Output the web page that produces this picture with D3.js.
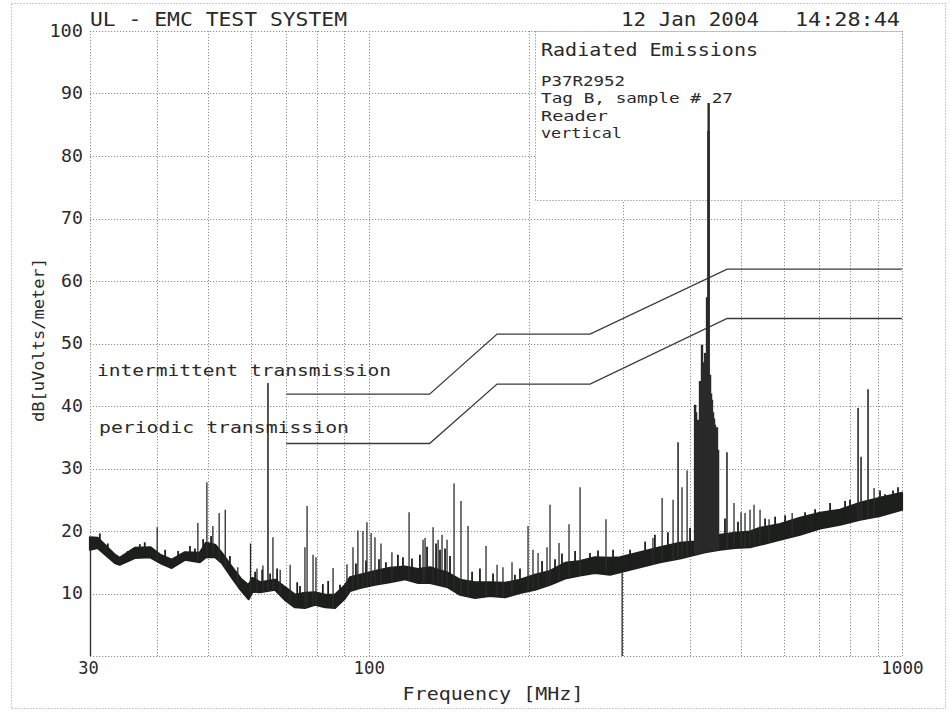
<!DOCTYPE html>
<html>
<head>
<meta charset="utf-8">
<script src="https://cdn.jsdelivr.net/npm/d3@7"></script>
<style>
  html, body { margin: 0; padding: 0; background: #fff; }
  svg text { font-family: "DejaVu Sans Mono", "Liberation Mono", monospace; fill: #2a2a2a; }
</style>
</head>
<body>
<div id="chart"></div>
<script>
// Frequency axis (MHz, log) and level axis (dB uV/m)
const xTicks = [30, 100, 1000];
const xGrid = [40, 50, 60, 70, 80, 90, 200, 300, 400, 500, 600, 700, 800, 900];
const yTicks = [10, 20, 30, 40, 50, 60, 70, 80, 90, 100];

// Noise floor of the trace: lower and upper edge of the band
const floorFreq = [30, 31, 33.4, 34.1, 36.4, 38.9, 40.6, 42.7, 45.2, 48.2, 49.5, 51.5, 53, 55.4, 57.5, 59.5,
  60.5, 62.5, 66.7, 69.6, 72.7, 75.9, 79.3, 82.8, 86.4, 90.2, 92.2, 96.3, 102.7, 109.6, 116.9, 123.7,
  130.3, 140.8, 148.3, 158.2, 168.8, 180.1, 192.1, 205, 218.7, 233.4, 249, 265.6, 283.4, 295.9,
  322.6, 351.7, 383.5, 409.2, 427.3, 455.8, 486.3, 518.8, 541.7, 590.7, 643.9, 702, 765.3, 834.3, 909.4, 1000];
const floorLo = [17.0, 17.3, 14.9, 14.6, 15.7, 15.8, 14.9, 14.1, 15.4, 15.0, 15.8, 15.8, 14.9, 12.5, 10.6, 9.1,
  10.3, 10.2, 10.6, 9.0, 7.8, 7.7, 8.2, 7.8, 7.7, 9.2, 10.4, 10.9, 11.4, 11.8, 12.3, 11.7,
  11.7, 11.0, 9.8, 9.3, 9.6, 9.4, 10.1, 10.6, 11.4, 12.4, 12.9, 13.3, 13.0, 13.4,
  14.2, 15.0, 15.6, 16.2, 16.6, 17.0, 17.3, 17.4, 17.8, 18.6, 19.4, 20.4, 21.0, 21.8, 22.4, 23.4];
const floorHi = [19.0, 18.9, 16.2, 15.7, 17.3, 17.4, 16.2, 15.4, 16.6, 16.5, 18.1, 17.8, 16.5, 14.2, 12.4, 11.3,
  12.5, 11.8, 12.2, 11.0, 9.8, 10.1, 10.2, 9.8, 9.8, 11.3, 12.6, 13.0, 13.6, 14.1, 14.3, 13.9,
  14.2, 13.3, 12.2, 11.8, 11.8, 11.7, 12.2, 13.0, 13.6, 14.9, 15.2, 15.8, 15.7, 15.8,
  16.6, 17.4, 18.1, 18.3, 18.6, 19.4, 19.7, 19.9, 20.5, 21.1, 22.1, 22.9, 23.4, 24.5, 25.3, 26.1];

// Narrow emissions standing above the floor: frequency (MHz) and peak (dB uV/m)
const spikeFreq = [40.1, 47.8, 49.7, 51.0, 52.4, 53.8, 56.8, 60.0, 61.7, 63.3, 64.7, 66.1, 68.2, 71.2,
  75.9, 76.6, 78.6, 79.6, 85.7, 91.0, 93.4, 95.4, 97.5, 99.2, 101, 102.7, 105.4, 110.5, 119,
  126.4, 127.5, 132, 134.9, 137.2, 140.2, 144.5, 148.9, 153.5, 165.9, 174, 178.5, 185.6,
  198.9, 203.2, 207.7, 215.9, 218.7, 227.4, 237.4, 249, 278.5, 341.1, 354.9, 372.1, 380.2, 386.7,
  395.3, 409.2, 411, 414.4, 418, 421.6, 423.4, 427.3, 429, 430.9, 433.5, 433.9, 436.5, 438.4,
  440.2, 442.2, 444.1, 445.9, 448, 449.8, 451.9, 469.6, 484.1, 499, 507.7, 518.8, 527.8, 541.7,
  563.2, 622.3, 827.2, 837.9, 863.6, 886.4];
const spikePeak = [20.6, 21.3, 27.8, 20.8, 22.9, 23.4, 14.2, 18.0, 14.0, 14.5, 43.7, 19.0, 13.8, 14.6,
  17.4, 24.0, 16.2, 15.8, 14.1, 14.7, 17.4, 20.1, 20.0, 21.4, 19.7, 19.0, 18.0, 16.6, 23.0,
  18.6, 18.9, 20.6, 18.6, 19.4, 18.6, 27.6, 24.8, 20.8, 17.6, 14.6, 14.2, 15.0,
  20.8, 17.0, 16.5, 17.4, 24.2, 18.1, 21.1, 27.0, 21.9, 18.9, 25.3, 25.0, 34.2, 27.0,
  29.7, 40.2, 39.0, 37.8, 44.0, 49.8, 47.0, 48.5, 46.0, 57.4, 84.0, 88.5, 45.0, 42.0,
  41.0, 39.0, 38.0, 37.0, 36.0, 36.6, 33.0, 32.6, 24.5, 23.0, 22.9, 23.4, 24.2, 23.4,
  21.9, 22.9, 39.7, 31.9, 42.7, 26.9];

// Small ripples on top of the floor band
const rippleFreq = [31.3, 32.4, 35.3, 37.2, 38.0, 41.5, 43.9, 46.2, 47.2, 48.9, 50.6, 54.9,
  61.2, 63.1, 65.3, 67.3, 73.4, 74.3, 82.0, 83.9, 88.3, 94.6, 98.8, 104.5, 107.7, 113.4, 115.9, 120.5, 124.7,
  128.6, 133.7, 136, 139, 142, 156.2, 161.6, 171, 188, 192.1, 211.3, 223.5, 230.3, 243.7, 259.9, 269.1,
  287.1, 309, 329.8, 344, 363.9, 400.4, 465.6, 492.5, 553.6, 578.2, 603.7, 658, 687.1, 733, 781.9,
  798.9, 909.4, 929.2, 961.9, 982.9];
const ripplePeak = [19.6, 18.0, 16.8, 17.9, 18.2, 17.0, 16.8, 17.6, 17.2, 18.7, 19.2, 16.0,
  13.5, 13.8, 13.2, 14.0, 11.8, 11.2, 11.5, 12.0, 11.4, 14.8, 15.3, 15.5, 15.0, 16.2, 15.8, 15.6, 16.2,
  17.5, 18.0, 17.0, 17.2, 16.0, 13.5, 14.0, 13.2, 13.0, 14.0, 15.2, 15.5, 16.4, 16.8, 16.5, 16.9,
  17.0, 17.0, 18.3, 19.4, 19.8, 20.5, 22.0, 21.5, 22.0, 22.3, 22.5, 23.0, 23.5, 24.5, 24.8,
  25.0, 26.5, 25.9, 26.5, 27.0];

// Points where the sweep drops to the bottom of the scale
const dropFreq = [30, 298];

// FCC 15.231 spurious limits
const limitFreq = [70, 130, 174, 260, 470, 1000];
const limitIntermittent = [41.9, 41.9, 51.5, 51.5, 61.9, 61.9];
const limitPeriodic = [34, 34, 43.5, 43.5, 54, 54];

const W = 950, H = 712;
const svg = d3.select('#chart').append('svg')
  .attr('width', W).attr('height', H);

const x = d3.scaleLog().domain([30, 1000]).range([90, 902]);
const y = d3.scaleLinear().domain([0, 100]).range([656, 31]);

const dot = '1.2,1.8';
const gridColor = '#8e8e8e';

// outer dotted frame
svg.append('rect')
  .attr('x', 11.5).attr('y', 3.5).attr('width', 934).attr('height', 705)
  .attr('fill', 'none').attr('stroke', '#aaa').attr('stroke-dasharray', dot);

// grid
const grid = svg.append('g').attr('stroke', gridColor).attr('stroke-dasharray', dot).attr('stroke-width', 1);
grid.selectAll('.vx').data(xGrid.concat(xTicks)).join('line')
  .attr('x1', d => Math.round(x(d)) + 0.5).attr('x2', d => Math.round(x(d)) + 0.5)
  .attr('y1', y(100)).attr('y2', y(0));
grid.selectAll('.hy').data([0].concat(yTicks)).join('line')
  .attr('x1', x(30)).attr('x2', x(1000))
  .attr('y1', d => Math.round(y(d)) + 0.5).attr('y2', d => Math.round(y(d)) + 0.5);

// annotation box (covers the grid)
const boxX = 535, boxY = 31.5, boxW = 367, boxH = 169;
svg.append('rect')
  .attr('x', boxX + 0.5).attr('y', boxY).attr('width', boxW).attr('height', boxH)
  .attr('fill', '#fff').attr('stroke', gridColor).attr('stroke-dasharray', dot);

// texts with fixed widths so the plotter spacing is kept
function label(txt, tx, ty, w, size, anchor) {
  return svg.append('text')
    .attr('x', tx).attr('y', ty)
    .attr('font-size', size)
    .attr('text-anchor', anchor || 'start')
    .attr('textLength', w).attr('lengthAdjust', 'spacingAndGlyphs')
    .text(txt);
}

label('UL - EMC TEST SYSTEM', 90, 26, 257, 19);
label('12 Jan 2004', 621, 26, 138, 19);
label('14:28:44', 795, 26, 105, 19);

label('Radiated Emissions', 541, 56, 217, 17);
label('P37R2952', 541, 86, 84, 14);
label('Tag B, sample # 27', 541, 103, 192, 14);
label('Reader', 541, 121, 67, 14);
label('vertical', 541, 138, 81, 14);

label('intermittent transmission', 97, 376, 294, 16);
label('periodic transmission', 99, 433, 250, 16);

// y axis labels
const yAxis = d3.axisLeft(y).tickValues(yTicks).tickSize(0).tickPadding(7)
  .tickFormat(d => String(d));
const gy = svg.append('g').attr('transform', 'translate(90,0)').call(yAxis);
gy.select('.domain').remove();
gy.selectAll('text')
  .attr('font-size', 17).attr('fill', '#2a2a2a')
  .attr('font-family', '"DejaVu Sans Mono", monospace')
  .attr('textLength', d => String(d).length * 11.7 - 1.5)
  .attr('lengthAdjust', 'spacingAndGlyphs');

// x axis labels
const xAxis = d3.axisBottom(x).tickValues(xTicks).tickSize(0).tickPadding(6)
  .tickFormat(d => String(d));
const gx = svg.append('g').attr('transform', 'translate(0,656)').call(xAxis);
gx.select('.domain').remove();
gx.selectAll('text')
  .attr('font-size', 17).attr('fill', '#2a2a2a')
  .attr('font-family', '"DejaVu Sans Mono", monospace')
  .attr('textLength', d => String(d).length * 11 - 1.5)
  .attr('lengthAdjust', 'spacingAndGlyphs');
gx.selectAll('.tick').filter(d => d === 30).select('text').attr('dx', -2);

label('Frequency [MHz]', 493, 700, 181, 17, 'middle');
svg.append('text')
  .attr('transform', 'translate(44,340) rotate(-90)')
  .attr('font-size', 15).attr('text-anchor', 'middle')
  .attr('textLength', 164).attr('lengthAdjust', 'spacingAndGlyphs')
  .text('dB[uVolts/meter]');

// limit lines
const limitLine = d3.line().x(d => x(d[0])).y(d => y(d[1]));
[limitIntermittent, limitPeriodic].forEach(vals => {
  svg.append('path')
    .attr('d', limitLine(limitFreq.map((f, i) => [f, vals[i]])))
    .attr('fill', 'none').attr('stroke', '#3a3a3a').attr('stroke-width', 1.3);
});

// trace
const floorData = floorFreq.map((f, i) => ({ f, lo: floorLo[i], hi: floorHi[i] }));
const bis = d3.bisector(d => d.f).left;
function floorAt(f, key) {
  const i = Math.max(1, Math.min(floorData.length - 1, bis(floorData, f)));
  const a = floorData[i - 1], b = floorData[i];
  const t = (Math.log(f) - Math.log(a.f)) / (Math.log(b.f) - Math.log(a.f));
  return a[key] + (b[key] - a[key]) * t;
}

const trace = svg.append('g');
trace.append('path')
  .datum(floorData)
  .attr('d', d3.area().x(d => x(d.f)).y0(d => y(d.lo)).y1(d => y(d.hi)))
  .attr('fill', '#1d1f1d').attr('stroke', '#1d1f1d').attr('stroke-width', 2.2)
  .attr('stroke-linejoin', 'round');

trace.selectAll('.ripple').data(rippleFreq.map((f, i) => ({ f, p: ripplePeak[i] }))).join('line')
  .attr('x1', d => x(d.f)).attr('x2', d => x(d.f))
  .attr('y1', d => y(floorAt(d.f, 'lo')))
  .attr('y2', d => y(d.p))
  .attr('stroke', '#1d1f1d').attr('stroke-width', 1.8);

trace.selectAll('.spike').data(spikeFreq.map((f, i) => ({ f, p: spikePeak[i] }))).join('line')
  .attr('x1', d => x(d.f)).attr('x2', d => x(d.f))
  .attr('y1', d => y(floorAt(d.f, 'lo')))
  .attr('y2', d => y(d.p))
  .attr('stroke', '#2a2a2a')
  .attr('stroke-width', d => (d.f > 405 && d.f < 455) ? 2.4 : (d.p > 30 ? 1.6 : 1.3));

trace.selectAll('.drop').data(dropFreq).join('line')
  .attr('x1', d => x(d) + 0.5).attr('x2', d => x(d) + 0.5)
  .attr('y1', d => y(floorAt(d, 'lo'))).attr('y2', y(0))
  .attr('stroke', '#333').attr('stroke-width', 1.4);
</script>
</body>
</html>
